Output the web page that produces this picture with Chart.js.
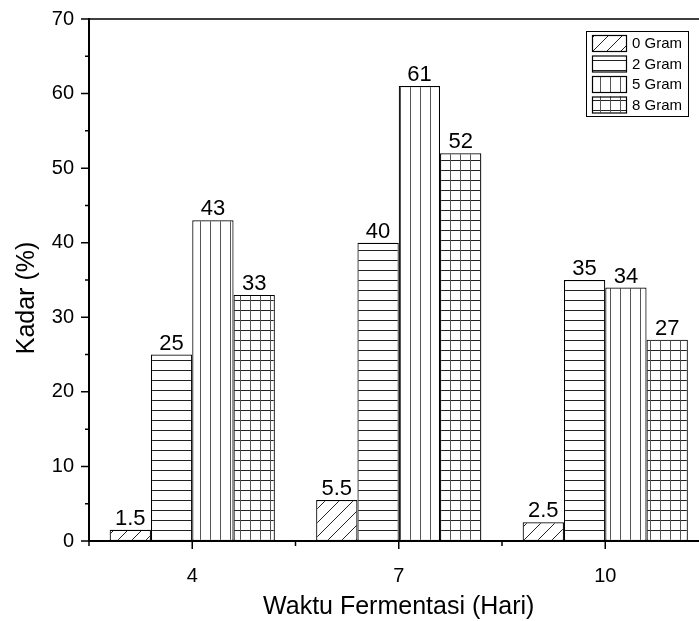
<!DOCTYPE html>
<html>
<head>
<meta charset="utf-8">
<script src="https://cdn.jsdelivr.net/npm/chart.js@4.4.1/dist/chart.umd.min.js"></script>
<style>
  html, body { margin: 0; padding: 0; background: #fff; overflow: hidden; }
  canvas { display: block; }
</style>
</head>
<body>
<canvas id="chart" width="720" height="621"></canvas>
<script>
/* --------------- Data --------------------- */
const categories = ["4", "7", "10"];
const seriesNames = ["0 Gram", "2 Gram", "5 Gram", "8 Gram"];
const gram0 = [1.5, 5.5, 2.5];
const gram2 = [25, 40, 35];
const gram5 = [43, 61, 34];
const gram8 = [33, 52, 27];
const yTicks = [0, 10, 20, 30, 40, 50, 60, 70];
const yTitle = "Kadar (%)";
const xTitle = "Waktu Fermentasi (Hari)";

const FONT = '"Liberation Sans", Arial, sans-serif';

/* --------------- Hatch Patterns --------------------- */
const makePattern = (kind, size) => {
    const c = document.createElement("canvas");
    c.width = size;
    c.height = size;
    const g = c.getContext("2d");
    g.fillStyle = "#fff";
    g.fillRect(0, 0, size, size);
    g.lineWidth = 1;
    if (kind === "diag") {
        g.strokeStyle = "#222";
        g.beginPath();
        g.moveTo(0, size); g.lineTo(size, 0);
        g.moveTo(-1, 1); g.lineTo(1, -1);
        g.moveTo(size - 1, size + 1); g.lineTo(size + 1, size - 1);
        g.stroke();
    }
    if (kind === "horiz" || kind === "grid") {
        g.strokeStyle = "#222";
        g.beginPath();
        g.moveTo(0, 0.5); g.lineTo(size, 0.5);
        g.stroke();
    }
    if (kind === "vert" || kind === "grid") {
        g.strokeStyle = "#555";
        g.beginPath();
        g.moveTo(0.5, 0); g.lineTo(0.5, size);
        g.stroke();
    }
    return g.createPattern(c, "repeat");
};

const patterns = [
    makePattern("diag", 14),
    makePattern("horiz", 10),
    makePattern("vert", 10),
    makePattern("grid", 10),
];
const seriesValues = [gram0, gram2, gram5, gram8];

/* --------------- Value Labels Above Bars --------------------- */
const barLabels = {
    id: "barLabels",
    afterDatasetsDraw(chart) {
        const { ctx } = chart;
        ctx.save();
        ctx.font = "22px " + FONT;
        ctx.fillStyle = "#000";
        ctx.textAlign = "center";
        ctx.textBaseline = "bottom";
        chart.data.datasets.forEach((ds, i) => {
            chart.getDatasetMeta(i).data.forEach((bar, j) => {
                ctx.fillText(String(ds.data[j]), bar.x, bar.y);
            });
        });
        ctx.restore();
    },
};

/* --------------- Frame, Tick Marks, Y Title --------------------- */
const axisFrame = {
    id: "axisFrame",
    afterDraw(chart) {
        const { ctx, chartArea, scales } = chart;
        const { left, right, top, bottom } = chartArea;
        ctx.save();
        ctx.strokeStyle = "#000";
        ctx.lineWidth = 1.5;
        ctx.beginPath();
        ctx.moveTo(left - 1, top);
        ctx.lineTo(right, top);
        yTicks.forEach((v) => {
            const py = scales.y.getPixelForValue(v);
            ctx.moveTo(left - 8, py);
            ctx.lineTo(left, py);
            if (v + 5 <= scales.y.max) {
                const pm = scales.y.getPixelForValue(v + 5);
                ctx.moveTo(left - 4, pm);
                ctx.lineTo(left, pm);
            }
        });
        categories.forEach((c, i) => {
            const px = scales.x.getPixelForValue(i);
            ctx.moveTo(px, bottom);
            ctx.lineTo(px, bottom + 8);
        });
        for (let i = 0; i <= categories.length; i++) {
            const px = scales.x.getPixelForValue(i - 0.5);
            ctx.moveTo(px, bottom);
            ctx.lineTo(px, bottom + 5);
        }
        ctx.stroke();

        // y axis title, sits a little below the middle as in the original
        ctx.translate(27, (top + bottom) / 2 + 18);
        ctx.rotate(-Math.PI / 2);
        ctx.font = "25px " + FONT;
        ctx.fillStyle = "#000";
        ctx.textAlign = "center";
        ctx.textBaseline = "middle";
        ctx.fillText(yTitle, 0, 0);
        ctx.restore();
    },
};

/* --------------- Boxed Legend --------------------- */
const boxLegend = {
    id: "boxLegend",
    afterDraw(chart) {
        const { ctx } = chart;
        const x0 = 586, y0 = 31, w = 102, h = 85;
        ctx.save();
        ctx.fillStyle = "#fff";
        ctx.fillRect(x0, y0, w, h);
        ctx.strokeStyle = "#000";
        ctx.lineWidth = 1;
        ctx.strokeRect(x0 + 0.5, y0 + 0.5, w, h);
        ctx.font = "15px " + FONT;
        ctx.textBaseline = "middle";
        ctx.textAlign = "left";
        seriesNames.forEach((name, i) => {
            const sy = y0 + 4 + i * 20.5;
            ctx.fillStyle = patterns[i];
            ctx.fillRect(x0 + 6, sy, 34, 16);
            ctx.lineWidth = 1.2;
            ctx.strokeRect(x0 + 6.5, sy + 0.5, 34, 16);
            ctx.fillStyle = "#000";
            ctx.fillText(name, x0 + 46, sy + 9);
        });
        ctx.restore();
    },
};

/* --------------- Chart --------------------- */
new Chart(document.getElementById("chart"), {
    type: "bar",
    plugins: [barLabels, axisFrame, boxLegend],
    data: {
        labels: categories,
        datasets: seriesNames.map((name, i) => ({
            label: name,
            data: seriesValues[i],
            backgroundColor: patterns[i],
            borderColor: "#000",
            borderWidth: 1.2,
            borderSkipped: false,
            categoryPercentage: 0.8,
            barPercentage: 1.0,
        })),
    },
    options: {
        responsive: false,
        animation: false,
        layout: { padding: { top: 19, right: 11.5, left: 0, bottom: 0 } },
        plugins: {
            legend: { display: false },
            tooltip: { enabled: false },
        },
        scales: {
            x: {
                offset: true,
                grid: { display: false, drawTicks: false },
                border: { display: true, color: "#000", width: 2 },
                ticks: { color: "#000", padding: 23, font: { size: 20, family: FONT } },
                title: {
                    display: true,
                    text: xTitle,
                    color: "#000",
                    font: { size: 25, family: FONT, lineHeight: 1.1 },
                    padding: { bottom: 0 },
                },
                afterFit: (scale) => {
                    scale.height = 80;
                    scale.paddingLeft = 0;
                    scale.paddingRight = 0;
                },
            },
            y: {
                min: 0,
                max: 70,
                grid: { display: false, drawTicks: false },
                border: { display: true, color: "#000", width: 2 },
                ticks: { stepSize: 10, color: "#000", padding: 15, font: { size: 20, family: FONT } },
                afterFit: (scale) => {
                    scale.width = 89;
                    scale.paddingTop = 0;
                    scale.paddingBottom = 0;
                },
            },
        },
    },
});
</script>
</body>
</html>
